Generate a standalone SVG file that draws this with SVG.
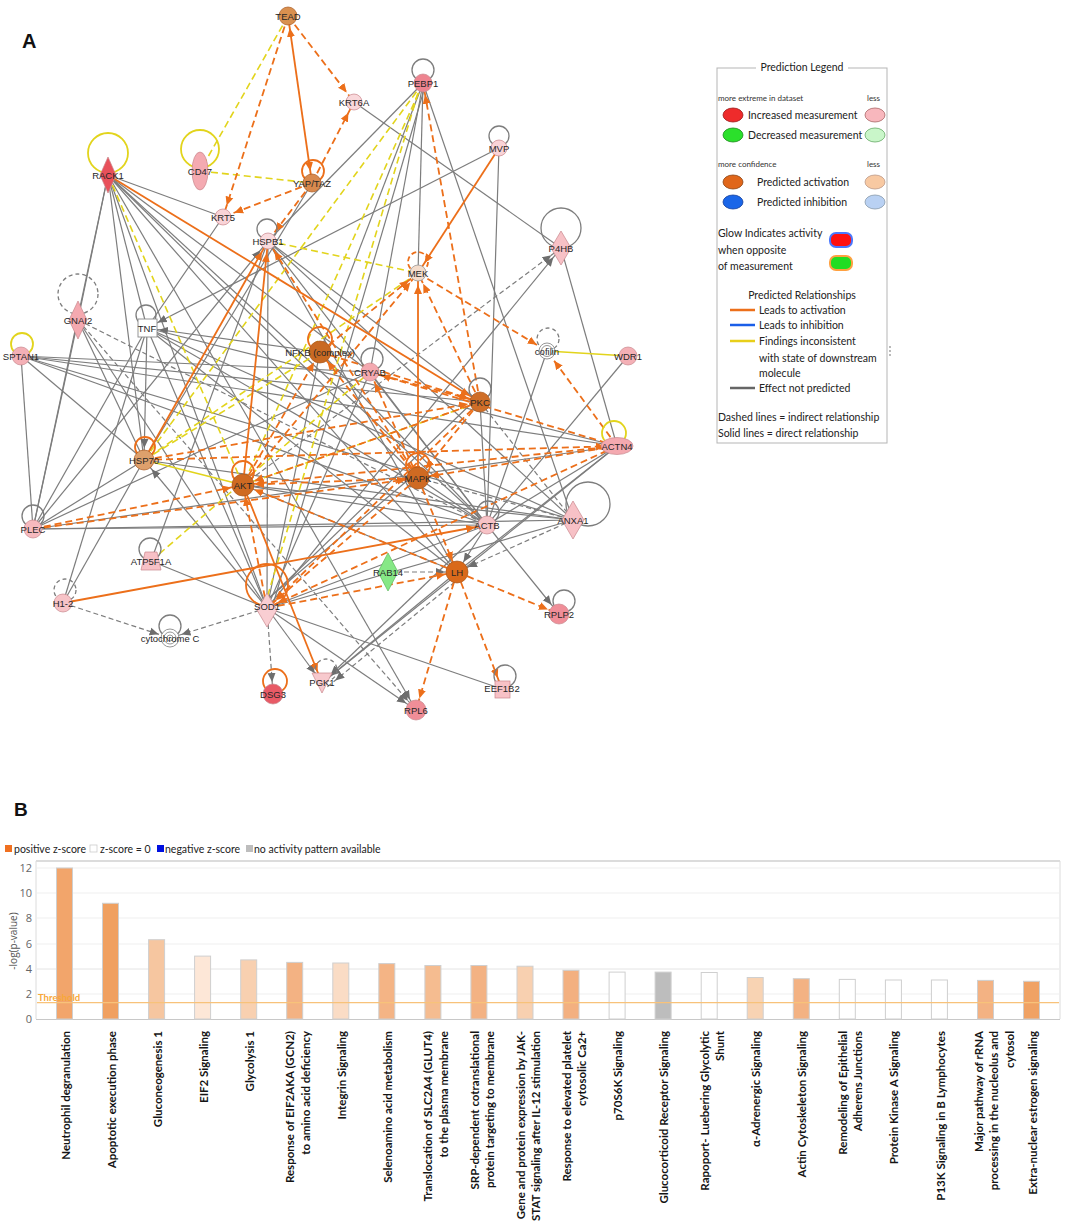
<svg xmlns="http://www.w3.org/2000/svg" width="1065" height="1227" viewBox="0 0 1065 1227">
<style>
.g{stroke:#7d7d7d;stroke-width:1.2;fill:none}
.gd{stroke:#7d7d7d;stroke-width:1.2;stroke-dasharray:5 3;fill:none}
.a{marker-end:url(#mg)}
.o{stroke:#ec6f1a;stroke-width:1.8;fill:none;marker-end:url(#mo)}
.od{stroke:#ec6f1a;stroke-width:1.8;stroke-dasharray:7 4;fill:none;marker-end:url(#mo)}
.bi{marker-start:url(#mo)}
.y{stroke:#e2d41c;stroke-width:1.6;fill:none}
.yd{stroke:#e2d41c;stroke-width:1.6;stroke-dasharray:7 4;fill:none}
.lg{stroke:#7d7d7d;stroke-width:1.3;fill:none}
.lgd{stroke:#7d7d7d;stroke-width:1.3;stroke-dasharray:4 3;fill:none}
.lo{stroke:#ec6f1a;stroke-width:1.8;fill:none}
.lod{stroke:#ec6f1a;stroke-width:1.8;stroke-dasharray:5 3;fill:none}
.ly{stroke:#e2d41c;stroke-width:1.8;fill:none}
.pk{stroke:#c9868c;stroke-width:0.7}
.or{stroke:#a9571c;stroke-width:0.7}
.wh{fill:#fff;stroke:#8a8a8a;stroke-width:0.9}
.t{font-family:"Liberation Sans",Arial,sans-serif;font-size:9.5px;fill:#262626;text-anchor:middle}
.lt{font-family:Lato,"Liberation Sans",sans-serif;font-size:10.5px;fill:#222}
.ls{font-family:Lato,"Liberation Sans",sans-serif;font-size:8px;fill:#333}
.cl{font-family:Lato,"Liberation Sans",sans-serif;font-size:11.5px;font-weight:700;fill:#141414;text-anchor:end}
.tk{font-family:"Open Sans","Liberation Sans",sans-serif;font-size:11px;fill:#666;text-anchor:end}
.bar{stroke:#cfcfcf;stroke-width:1}
</style>
<defs>
<marker id="mo" markerUnits="userSpaceOnUse" viewBox="0 0 22 10" refX="21" refY="5" markerWidth="22" markerHeight="10" orient="auto-start-reverse"><path d="M0,1 L9,5 L0,9 z" fill="#ec6f1a"/></marker>
<marker id="mg" markerUnits="userSpaceOnUse" viewBox="0 0 22 10" refX="21" refY="5" markerWidth="22" markerHeight="10" orient="auto"><path d="M0,1 L9,5 L0,9 z" fill="#6e6e6e"/></marker>
</defs>
<rect width="1065" height="1227" fill="#fff"/>
<text x="22" y="48" font-family="Liberation Sans,Arial,sans-serif" font-weight="700" font-size="20" fill="#111">A</text>
<text x="14" y="816" font-family="Liberation Sans,Arial,sans-serif" font-weight="700" font-size="19" fill="#111">B</text>

<g id="connectors">
<line class="g" x1="108" y1="175" x2="78" y2="320"/>
<line class="g" x1="108" y1="175" x2="223" y2="217"/>
<line class="g" x1="108" y1="175" x2="147" y2="328"/>
<line class="g" x1="108" y1="175" x2="418" y2="478"/>
<line class="g" x1="108" y1="175" x2="487" y2="525"/>
<line class="g" x1="108" y1="175" x2="457" y2="572"/>
<line class="g a" x1="108" y1="175" x2="416" y2="710"/>
<line class="g" x1="108" y1="175" x2="370" y2="372"/>
<line class="g" x1="108" y1="175" x2="144" y2="460"/>
<line class="g" x1="108" y1="175" x2="267" y2="608"/>
<line class="g" x1="354" y1="102" x2="561" y2="248"/>
<line class="g" x1="423" y1="83" x2="268" y2="241"/>
<line class="g" x1="423" y1="83" x2="418" y2="273"/>
<line class="g" x1="423" y1="83" x2="573" y2="520"/>
<line class="g" x1="423" y1="83" x2="320" y2="352"/>
<line class="g" x1="426" y1="83" x2="272" y2="608"/>
<line class="g" x1="423" y1="83" x2="370" y2="372"/>
<line class="g" x1="312" y1="183" x2="144" y2="460"/>
<line class="g a" x1="499" y1="148" x2="147" y2="328"/>
<line class="g" x1="499" y1="148" x2="487" y2="525"/>
<line class="g" x1="561" y1="248" x2="617" y2="446"/>
<line class="g a" x1="267" y1="608" x2="561" y2="248"/>
<line class="gd a" x1="243" y1="485" x2="561" y2="248"/>
<line class="g" x1="268" y1="241" x2="480" y2="402"/>
<line class="g" x1="268" y1="241" x2="487" y2="525"/>
<line class="g" x1="268" y1="241" x2="267" y2="608"/>
<line class="g" x1="268" y1="241" x2="457" y2="572"/>
<line class="g" x1="268" y1="241" x2="573" y2="520"/>
<line class="g" x1="223" y1="217" x2="147" y2="328"/>
<line class="g a" x1="33" y1="529" x2="268" y2="241"/>
<line class="g" x1="21" y1="356" x2="33" y2="529"/>
<line class="g" x1="21" y1="356" x2="144" y2="460"/>
<line class="g" x1="21" y1="356" x2="487" y2="525"/>
<line class="g" x1="21" y1="356" x2="573" y2="520"/>
<line class="g" x1="21" y1="356" x2="617" y2="446"/>
<line class="g" x1="21" y1="356" x2="370" y2="372"/>
<line class="g" x1="21" y1="356" x2="480" y2="402"/>
<line class="g" x1="78" y1="320" x2="33" y2="529"/>
<line class="gd" x1="78" y1="320" x2="487" y2="525"/>
<line class="g" x1="78" y1="320" x2="267" y2="608"/>
<line class="g" x1="78" y1="320" x2="144" y2="460"/>
<line class="g a" x1="147" y1="328" x2="144" y2="460"/>
<line class="g" x1="147" y1="328" x2="487" y2="525"/>
<line class="g" x1="147" y1="328" x2="573" y2="520"/>
<line class="g" x1="147" y1="328" x2="267" y2="608"/>
<line class="g" x1="147" y1="328" x2="457" y2="572"/>
<line class="g" x1="147" y1="328" x2="33" y2="529"/>
<line class="g a" x1="320" y1="352" x2="147" y2="328"/>
<line class="g" x1="320" y1="352" x2="487" y2="525"/>
<line class="g" x1="320" y1="352" x2="267" y2="608"/>
<line class="g" x1="370" y1="372" x2="267" y2="608"/>
<line class="g" x1="370" y1="372" x2="487" y2="525"/>
<line class="g" x1="370" y1="372" x2="33" y2="529"/>
<line class="g" x1="144" y1="460" x2="33" y2="529"/>
<line class="g" x1="144" y1="460" x2="63" y2="603"/>
<line class="g" x1="147" y1="328" x2="63" y2="603"/>
<line class="g a" x1="267" y1="608" x2="144" y2="460"/>
<line class="g" x1="33" y1="529" x2="487" y2="525"/>
<line class="g" x1="33" y1="529" x2="573" y2="520"/>
<line class="g" x1="33" y1="529" x2="617" y2="446"/>
<line class="g" x1="33" y1="529" x2="108" y2="175"/>
<line class="g" x1="243" y1="485" x2="487" y2="525"/>
<line class="g" x1="243" y1="485" x2="573" y2="520"/>
<line class="g" x1="243" y1="485" x2="457" y2="572"/>
<line class="g" x1="418" y1="478" x2="487" y2="525"/>
<line class="gd" x1="418" y1="478" x2="573" y2="520"/>
<line class="g" x1="480" y1="402" x2="487" y2="525"/>
<line class="gd" x1="480" y1="402" x2="573" y2="520"/>
<line class="g" x1="547" y1="351" x2="487" y2="525"/>
<line class="g" x1="628" y1="356" x2="487" y2="525"/>
<line class="g" x1="617" y1="446" x2="487" y2="525"/>
<line class="g" x1="617" y1="446" x2="457" y2="572"/>
<line class="g" x1="617" y1="446" x2="147" y2="328"/>
<line class="g" x1="617" y1="446" x2="322" y2="683"/>
<line class="gd a" x1="573" y1="520" x2="457" y2="572"/>
<line class="g" x1="573" y1="520" x2="267" y2="608"/>
<line class="g" x1="573" y1="520" x2="144" y2="460"/>
<line class="g a" x1="487" y1="525" x2="457" y2="572"/>
<line class="g a" x1="487" y1="525" x2="559" y2="614"/>
<line class="g" x1="487" y1="525" x2="267" y2="608"/>
<line class="g a" x1="487" y1="525" x2="322" y2="683"/>
<line class="g a" x1="457" y1="572" x2="322" y2="683"/>
<line class="gd a" x1="461" y1="577" x2="326" y2="688"/>
<line class="gd a" x1="388" y1="572" x2="457" y2="572"/>
<line class="g" x1="262" y1="605" x2="476" y2="399"/>
<line class="g" x1="263" y1="603" x2="415" y2="474"/>
<line class="gd a" x1="267" y1="608" x2="273" y2="694"/>
<line class="gd a" x1="267" y1="608" x2="170" y2="638"/>
<line class="gd a" x1="63" y1="603" x2="170" y2="638"/>
<line class="g a" x1="267" y1="608" x2="322" y2="683"/>
<line class="g a" x1="267" y1="608" x2="416" y2="710"/>
<line class="g" x1="267" y1="608" x2="502" y2="689"/>
<line class="g" x1="151" y1="561" x2="267" y2="608"/>
<line class="g" x1="151" y1="561" x2="268" y2="241"/>
<line class="gd a" x1="78" y1="320" x2="416" y2="710"/>
<line class="yd" x1="288" y1="16" x2="200" y2="171"/>
<line class="yd" x1="200" y1="171" x2="312" y2="183"/>
<line class="yd" x1="108" y1="175" x2="243" y2="485"/>
<line class="yd" x1="268" y1="241" x2="418" y2="273"/>
<line class="yd" x1="423" y1="83" x2="144" y2="460"/>
<line class="yd" x1="423" y1="83" x2="243" y2="485"/>
<line class="yd" x1="421" y1="83" x2="264" y2="608"/>
<line class="yd" x1="418" y1="273" x2="144" y2="460"/>
<line class="yd" x1="243" y1="485" x2="480" y2="402"/>
<line class="yd" x1="151" y1="561" x2="370" y2="372"/>
<line class="yd" x1="144" y1="460" x2="320" y2="352"/>
<line class="y" x1="144" y1="460" x2="243" y2="485"/>
<line class="y" x1="628" y1="356" x2="547" y2="351"/>
<line class="od" x1="288" y1="16" x2="354" y2="102"/>
<line class="od" x1="288" y1="16" x2="223" y2="217"/>
<line class="od" x1="312" y1="183" x2="354" y2="102"/>
<line class="od" x1="312" y1="183" x2="223" y2="217"/>
<line class="od" x1="312" y1="183" x2="268" y2="241"/>
<line class="od" x1="480" y1="402" x2="423" y2="83"/>
<line class="od" x1="418" y1="273" x2="547" y2="351"/>
<line class="od" x1="617" y1="446" x2="547" y2="351"/>
<line class="od" x1="243" y1="485" x2="418" y2="273"/>
<line class="od" x1="320" y1="352" x2="418" y2="273"/>
<line class="od" x1="480" y1="402" x2="418" y2="273"/>
<line class="od" x1="418" y1="478" x2="268" y2="241"/>
<line class="od" x1="418" y1="478" x2="320" y2="352"/>
<line class="od" x1="418" y1="478" x2="370" y2="372"/>
<line class="od" x1="320" y1="352" x2="480" y2="402"/>
<line class="od" x1="370" y1="372" x2="480" y2="402"/>
<line class="od" x1="144" y1="460" x2="480" y2="402"/>
<line class="od" x1="144" y1="460" x2="617" y2="446"/>
<line class="od" x1="33" y1="529" x2="243" y2="485"/>
<line class="od" x1="33" y1="529" x2="418" y2="478"/>
<line class="od" x1="617" y1="446" x2="243" y2="485"/>
<line class="od" x1="617" y1="446" x2="418" y2="478"/>
<line class="od" x1="617" y1="446" x2="370" y2="372"/>
<line class="od" x1="418" y1="478" x2="243" y2="485"/>
<line class="od" x1="457" y1="572" x2="243" y2="485"/>
<line class="od" x1="267" y1="608" x2="243" y2="485"/>
<line class="od" x1="267" y1="608" x2="457" y2="572"/>
<line class="od" x1="418" y1="478" x2="457" y2="572"/>
<line class="od" x1="457" y1="572" x2="416" y2="710"/>
<line class="od" x1="457" y1="572" x2="502" y2="689"/>
<line class="od" x1="457" y1="572" x2="559" y2="614"/>
<line class="od" x1="480" y1="402" x2="267" y2="608"/>
<line class="od" x1="617" y1="446" x2="267" y2="608"/>
<line class="od" x1="418" y1="478" x2="267" y2="608"/>
<line class="od" x1="480" y1="402" x2="418" y2="478"/>
<line class="od" x1="480" y1="402" x2="243" y2="485"/>
<line class="od" x1="243" y1="485" x2="320" y2="352"/>
<line class="o bi" x1="312" y1="183" x2="288" y2="16"/>
<line class="o" x1="108" y1="175" x2="480" y2="402"/>
<line class="o" x1="499" y1="148" x2="418" y2="273"/>
<line class="o" x1="418" y1="478" x2="418" y2="273"/>
<line class="o" x1="144" y1="460" x2="268" y2="241"/>
<line class="o" x1="243" y1="485" x2="268" y2="241"/>
<line class="o" x1="243" y1="485" x2="322" y2="683"/>
<line class="o" x1="63" y1="603" x2="487" y2="525"/>
<circle class="ly" cx="108" cy="153" r="20"/>
<circle class="ly" cx="200" cy="149" r="19"/>
<circle class="lo" cx="313" cy="171" r="11"/>
<circle class="lg" cx="423" cy="70" r="11"/>
<circle class="lg" cx="499" cy="136" r="10"/>
<circle class="lg" cx="267" cy="229" r="10"/>
<circle class="lg" cx="561" cy="228" r="20"/>
<circle class="lod" cx="418" cy="262" r="10"/>
<circle class="lgd" cx="78" cy="294" r="20"/>
<circle class="lg" cx="146" cy="315" r="10"/>
<circle class="ly" cx="22" cy="344" r="11"/>
<circle class="lo" cx="320" cy="339" r="12"/>
<circle class="lg" cx="372" cy="359" r="11"/>
<circle class="lgd" cx="548" cy="339" r="11"/>
<circle class="lg" cx="480" cy="389" r="11"/>
<circle class="lo" cx="145" cy="447" r="10"/>
<circle class="ly" cx="614" cy="433" r="12"/>
<circle class="lo" cx="243" cy="472" r="11"/>
<circle class="lo" cx="418" cy="465" r="12"/>
<circle class="lg" cx="488" cy="512" r="11"/>
<circle class="lg" cx="588" cy="504" r="22"/>
<circle class="lg" cx="150" cy="549" r="11"/>
<circle class="lgd" cx="65" cy="590" r="11"/>
<circle class="lo" cx="267" cy="585" r="21"/>
<circle class="lg" cx="170" cy="626" r="11"/>
<circle class="lg" cx="564" cy="601" r="11"/>
<circle class="lo" cx="275" cy="681" r="12"/>
<circle class="lgd" cx="326" cy="670" r="11"/>
<circle class="lg" cx="505" cy="676" r="11"/>
<circle class="lg" cx="33" cy="516" r="11"/>
</g>

<g id="node-TEAD"><circle class="or" cx="288" cy="16" r="9" fill="#d9904f"/><text class="t" x="288" y="19.5">TEAD</text></g>
<g id="node-KRT6A"><circle class="pk" cx="354" cy="102" r="8" fill="#f9d8db"/><text class="t" x="354" y="105.5">KRT6A</text></g>
<g id="node-PEBP1"><circle class="pk" cx="423" cy="83" r="9" fill="#ee8490"/><text class="t" x="423" y="86.5">PEBP1</text></g>
<g id="node-CD47"><ellipse class="pk" cx="200" cy="171" rx="8" ry="19" fill="#f4aab1"/><text class="t" x="200" y="174.5">CD47</text></g>
<g id="node-RACK1"><polygon class="pk" points="108,157 116,175 108,193 100,175" fill="#e8505a"/><text class="t" x="108" y="178.5">RACK1</text></g>
<g id="node-YAPTAZ"><circle class="or" cx="312" cy="183" r="9" fill="#d98a4e"/><text class="t" x="312" y="186.5">YAP/TAZ</text></g>
<g id="node-KRT5"><circle class="pk" cx="223" cy="217" r="8" fill="#f9d3d7"/><text class="t" x="223" y="220.5">KRT5</text></g>
<g id="node-MVP"><circle class="pk" cx="499" cy="148" r="8" fill="#f9d3d7"/><text class="t" x="499" y="151.5">MVP</text></g>
<g id="node-HSPB1"><circle class="pk" cx="268" cy="241" r="8" fill="#fadbde"/><text class="t" x="268" y="244.5">HSPB1</text></g>
<g id="node-P4HB"><polygon class="pk" points="561,231 571,248 561,265 551,248" fill="#f7c1c6"/><text class="t" x="561" y="251.5">P4HB</text></g>
<g id="node-MEK"><circle cx="418" cy="273" r="8" fill="#f4dccb" stroke="#999" stroke-width="0.8"/><text class="t" x="418" y="276.5">MEK</text></g>
<g id="node-GNAI2"><polygon class="pk" points="78,301 87,320 78,339 69,320" fill="#f4a9b0"/><text class="t" x="78" y="323.5">GNAI2</text></g>
<g id="node-TNF"><rect class="wh" x="138" y="319" width="19" height="18"/><text class="t" x="147" y="331.5">TNF</text></g>
<g id="node-SPTAN1"><circle class="pk" cx="21" cy="356" r="9" fill="#f4b0b6"/><text class="t" x="21" y="359.5">SPTAN1</text></g>
<g id="node-NFKB"><circle class="or" cx="320" cy="352" r="11" fill="#c96a22"/><text class="t" x="320" y="355.5">NFKB (complex)</text></g>
<g id="node-CRYAB"><circle class="pk" cx="370" cy="372" r="9" fill="#f4a9b0"/><text class="t" x="370" y="375.5">CRYAB</text></g>
<g id="node-cofilin"><circle class="wh" cx="547" cy="351" r="8"/><circle class="wh" cx="547" cy="351" r="5.5"/><text class="t" x="547" y="354.5">cofilin</text></g>
<g id="node-WDR1"><circle class="pk" cx="628" cy="356" r="9" fill="#f4b0b6"/><text class="t" x="628" y="359.5">WDR1</text></g>
<g id="node-PKC"><circle class="or" cx="480" cy="402" r="10" fill="#cf6e28"/><text class="t" x="480" y="405.5">PKC</text></g>
<g id="node-HSP70"><circle class="or" cx="144" cy="460" r="10" fill="#dea06c"/><text class="t" x="144" y="463.5">HSP70</text></g>
<g id="node-ACTN4"><ellipse class="pk" cx="617" cy="446" rx="16" ry="8.5" fill="#f4a9b0"/><text class="t" x="617" y="449.5">ACTN4</text></g>
<g id="node-AKT"><circle class="or" cx="243" cy="485" r="11" fill="#cf6a22"/><text class="t" x="243" y="488.5">AKT</text></g>
<g id="node-MAPK"><circle class="or" cx="418" cy="478" r="11" fill="#cf6a22"/><text class="t" x="418" y="481.5">MAPK</text></g>
<g id="node-PLEC"><circle class="pk" cx="33" cy="529" r="9" fill="#f6b9be"/><text class="t" x="33" y="532.5">PLEC</text></g>
<g id="node-ACTB"><circle class="pk" cx="487" cy="525" r="9" fill="#f7c3c7"/><text class="t" x="487" y="528.5">ACTB</text></g>
<g id="node-ANXA1"><polygon class="pk" points="573,501 584,520 573,539 562,520" fill="#f7c1c6"/><text class="t" x="573" y="523.5">ANXA1</text></g>
<g id="node-ATP5F1A"><polygon class="pk" points="145,552 157,552 161,570 141,570" fill="#f7c1c6"/><text class="t" x="151" y="564.5">ATP5F1A</text></g>
<g id="node-RAB14"><polygon points="388,553 398,572 388,591 378,572" fill="#86e886" stroke="#5cb85c" stroke-width="0.7"/><text class="t" x="388" y="575.5">RAB14</text></g>
<g id="node-LH"><circle class="or" cx="457" cy="572" r="11" fill="#d9691a"/><text class="t" x="457" y="575.5">LH</text></g>
<g id="node-H1-2"><circle class="pk" cx="63" cy="603" r="9" fill="#f7c3c7"/><text class="t" x="63" y="606.5">H1-2</text></g>
<g id="node-SOD1"><polygon class="pk" points="267,593 277,610 267,627 257,610" fill="#f9ced2"/><text class="t" x="267" y="609.5">SOD1</text></g>
<g id="node-cytochromeC"><circle class="wh" cx="170" cy="638" r="9"/><circle class="wh" cx="170" cy="638" r="6"/><circle class="wh" cx="170" cy="638" r="3"/><text class="t" x="170" y="641.5">cytochrome C</text></g>
<g id="node-DSG3"><circle class="pk" cx="273" cy="694" r="10" fill="#e85a66"/><text class="t" x="273" y="697.5">DSG3</text></g>
<g id="node-PGK1"><polygon class="pk" points="312,673 332,673 322,693" fill="#f7c9cd"/><text class="t" x="322" y="686">PGK1</text></g>
<g id="node-EEF1B2"><rect class="pk" x="495" y="681" width="15" height="17" fill="#f7c1c6"/><text class="t" x="502" y="692">EEF1B2</text></g>
<g id="node-RPL6"><circle class="pk" cx="416" cy="710" r="10" fill="#f08e98"/><text class="t" x="416" y="713.5">RPL6</text></g>
<g id="node-RPLP2"><circle class="pk" cx="559" cy="614" r="10" fill="#f08e98"/><text class="t" x="559" y="617.5">RPLP2</text></g>

<g id="legend">
<rect x="717" y="68" width="170" height="375" fill="#fff" stroke="#b5b5b5" stroke-width="1"/>
<rect x="756" y="62" width="92" height="12" fill="#fff"/>
<text class="lt" x="802" y="71" text-anchor="middle" font-size="11">Prediction Legend</text>
<text class="ls" x="718" y="101">more extreme in dataset</text>
<text class="ls" x="867" y="101">less</text>
<ellipse cx="733" cy="115" rx="10" ry="7" fill="#ee2b2b" stroke="#9a1a1a" stroke-width="0.8"/>
<text class="lt" x="748" y="119">Increased measurement</text>
<ellipse cx="875" cy="115" rx="10" ry="7" fill="#f8b7bd" stroke="#a66" stroke-width="0.8"/>
<ellipse cx="733" cy="135" rx="10" ry="7" fill="#2be02b" stroke="#1a8a1a" stroke-width="0.8"/>
<text class="lt" x="748" y="139">Decreased measurement</text>
<ellipse cx="875" cy="135" rx="10" ry="7" fill="#c9f6c9" stroke="#6a6" stroke-width="0.8"/>
<text class="ls" x="718" y="167">more confidence</text>
<text class="ls" x="867" y="167">less</text>
<ellipse cx="733" cy="182" rx="10" ry="7" fill="#e0661a" stroke="#8a4414" stroke-width="0.8"/>
<text class="lt" x="757" y="186">Predicted activation</text>
<ellipse cx="875" cy="182" rx="10" ry="7" fill="#f8c9a2" stroke="#b98" stroke-width="0.8"/>
<ellipse cx="733" cy="202" rx="10" ry="7" fill="#1a66e8" stroke="#143f9a" stroke-width="0.8"/>
<text class="lt" x="757" y="206">Predicted inhibition</text>
<ellipse cx="875" cy="202" rx="10" ry="7" fill="#b9d1f3" stroke="#89a" stroke-width="0.8"/>
<text class="lt" x="718" y="237">Glow Indicates activity</text>
<text class="lt" x="718" y="254">when opposite</text>
<text class="lt" x="718" y="270">of measurement</text>
<rect x="830" y="233" width="22" height="14" rx="6" fill="#ff1010" stroke="#4a78ff" stroke-width="2"/>
<rect x="830" y="256" width="22" height="14" rx="6" fill="#22dd22" stroke="#ffa040" stroke-width="2"/>
<text class="lt" x="802" y="299" text-anchor="middle">Predicted Relationships</text>
<line x1="730" y1="310" x2="755" y2="310" stroke="#ec6f1a" stroke-width="2.5"/>
<text class="lt" x="759" y="314">Leads to activation</text>
<line x1="730" y1="325" x2="755" y2="325" stroke="#1a5ee8" stroke-width="2.5"/>
<text class="lt" x="759" y="329">Leads to inhibition</text>
<line x1="730" y1="341" x2="755" y2="341" stroke="#e8cf1a" stroke-width="2.5"/>
<text class="lt" x="759" y="345">Findings inconsistent</text>
<text class="lt" x="759" y="362">with state of downstream</text>
<text class="lt" x="759" y="377">molecule</text>
<line x1="730" y1="388" x2="755" y2="388" stroke="#666" stroke-width="2.5"/>
<text class="lt" x="759" y="392">Effect not predicted</text>
<text class="lt" x="718" y="421">Dashed lines = indirect relationship</text>
<text class="lt" x="718" y="437">Solid lines = direct relationship</text>
<circle cx="890" cy="347" r="0.9" fill="#999"/><circle cx="890" cy="351" r="0.9" fill="#999"/><circle cx="890" cy="355" r="0.9" fill="#999"/>
</g>

<g id="chart">
<rect x="5" y="845" width="7" height="7" fill="#f07020"/>
<text class="lt" x="14" y="852.5" font-size="9.5">positive z-score</text>
<rect x="90" y="845" width="7" height="7" fill="#fff" stroke="#ccc" stroke-width="0.8"/>
<text class="lt" x="100" y="852.5" font-size="9.5">z-score = 0</text>
<rect x="157" y="845" width="7" height="7" fill="#0010e0"/>
<text class="lt" x="165" y="852.5" font-size="9.5">negative z-score</text>
<rect x="246" y="845" width="7" height="7" fill="#bdbdbd"/>
<text class="lt" x="254" y="852.5" font-size="9.5">no activity pattern available</text>
<g stroke="#efefef" stroke-width="1">
<line x1="37" y1="868" x2="1059" y2="868"/>
<line x1="37" y1="893" x2="1059" y2="893"/>
<line x1="37" y1="918" x2="1059" y2="918"/>
<line x1="37" y1="944" x2="1059" y2="944"/>
<line x1="37" y1="969" x2="1059" y2="969" stroke="#e4e4e4"/>
<line x1="37" y1="994" x2="1059" y2="994"/>
</g>
<line x1="36" y1="861" x2="1060" y2="861" stroke="#dcdcdc" stroke-width="2"/>
<line x1="36" y1="861" x2="36" y2="1019" stroke="#dcdcdc" stroke-width="1"/>
<line x1="1060" y1="861" x2="1060" y2="1019" stroke="#dcdcdc" stroke-width="1"/>
<line x1="36" y1="1019.5" x2="1060" y2="1019.5" stroke="#c8c8c8" stroke-width="1"/>
<text class="tk" x="32" y="872">12</text>
<text class="tk" x="32" y="897">10</text>
<text class="tk" x="32" y="922">8</text>
<text class="tk" x="32" y="948">6</text>
<text class="tk" x="32" y="973">4</text>
<text class="tk" x="32" y="998">2</text>
<text class="tk" x="32" y="1023">0</text>
<text transform="translate(17,941) rotate(-90)" font-family="Open Sans,Liberation Sans,sans-serif" font-size="10" fill="#555" text-anchor="middle">-log(p-value)</text>
<rect class="bar" x="56.5" y="868" width="16" height="151" fill="#f2a56b"/>
<rect class="bar" x="102.5" y="903.3" width="16" height="115.7" fill="#f0a060"/>
<rect class="bar" x="148.6" y="939.7" width="16" height="79.3" fill="#f6c6a0"/>
<rect class="bar" x="194.6" y="956.1" width="16" height="62.9" fill="#fde7d7"/>
<rect class="bar" x="240.7" y="959.9" width="16" height="59.1" fill="#f8d0b0"/>
<rect class="bar" x="286.7" y="962.4" width="16" height="56.6" fill="#f3b283"/>
<rect class="bar" x="332.8" y="963" width="16" height="56" fill="#fadcc5"/>
<rect class="bar" x="378.8" y="963.6" width="16" height="55.4" fill="#f4b485"/>
<rect class="bar" x="424.9" y="965.5" width="16" height="53.5" fill="#f5bc90"/>
<rect class="bar" x="470.9" y="965.5" width="16" height="53.5" fill="#f3b283"/>
<rect class="bar" x="517" y="966.2" width="16" height="52.8" fill="#f8d0b0"/>
<rect class="bar" x="563" y="970.3" width="16" height="48.7" fill="#f3b080"/>
<rect class="bar" x="609.1" y="972.1" width="16" height="46.9" fill="#fff"/>
<rect class="bar" x="655.1" y="972.1" width="16" height="46.9" fill="#bdbdbd"/>
<rect class="bar" x="701.2" y="972.5" width="16" height="46.5" fill="#fff"/>
<rect class="bar" x="747.2" y="977.5" width="16" height="41.5" fill="#f8d3b3"/>
<rect class="bar" x="793.3" y="978.7" width="16" height="40.3" fill="#f3b283"/>
<rect class="bar" x="839.3" y="979.4" width="16" height="39.6" fill="#fff"/>
<rect class="bar" x="885.4" y="980" width="16" height="39" fill="#fff"/>
<rect class="bar" x="931.4" y="980" width="16" height="39" fill="#fff"/>
<rect class="bar" x="977.5" y="980.4" width="16" height="38.6" fill="#f3b283"/>
<rect class="bar" x="1023.5" y="981.3" width="16" height="37.7" fill="#f0a264"/>
<line x1="37" y1="1002.7" x2="1059" y2="1002.7" stroke="#f8c27a" stroke-width="1.2"/>
<text x="38" y="1000.5" font-family="Lato,Liberation Sans,sans-serif" font-size="9.5" font-weight="700" fill="#f7a83a">Threshold</text>
<text class="cl" transform="translate(69.5,1031) rotate(-90)">Neutrophil degranulation</text>
<text class="cl" transform="translate(115.5,1031) rotate(-90)">Apoptotic execution phase</text>
<text class="cl" transform="translate(161.6,1031) rotate(-90)">Gluconeogenesis 1</text>
<text class="cl" transform="translate(207.6,1031) rotate(-90)">EIF2 Signaling</text>
<text class="cl" transform="translate(253.7,1031) rotate(-90)">Glycolysis 1</text>
<text class="cl" transform="translate(294.3,1031) rotate(-90)"><tspan x="0" y="0">Response of EIF2AKA (GCN2)</tspan><tspan x="0" dy="15.3">to amino acid deficiency</tspan></text>
<text class="cl" transform="translate(345.8,1031) rotate(-90)">Integrin Signaling</text>
<text class="cl" transform="translate(391.9,1031) rotate(-90)">Selenoamino acid metabolism</text>
<text class="cl" transform="translate(432.4,1031) rotate(-90)"><tspan x="0" y="0">Translocation of SLC2A4 (GLUT4)</tspan><tspan x="0" dy="15.3">to the plasma membrane</tspan></text>
<text class="cl" transform="translate(478.5,1031) rotate(-90)"><tspan x="0" y="0">SRP-dependent cotranslational</tspan><tspan x="0" dy="15.3">protein targeting to membrane</tspan></text>
<text class="cl" transform="translate(524.5,1031) rotate(-90)"><tspan x="0" y="0">Gene and protein expression by JAK-</tspan><tspan x="0" dy="15.3">STAT signaling after IL-12 stimulation</tspan></text>
<text class="cl" transform="translate(570.6,1031) rotate(-90)"><tspan x="0" y="0">Response to elevated platelet</tspan><tspan x="0" dy="15.3">cytosolic Ca2+</tspan></text>
<text class="cl" transform="translate(622.1,1031) rotate(-90)">p70S6K Signaling</text>
<text class="cl" transform="translate(668.2,1031) rotate(-90)">Glucocorticoid Receptor Signaling</text>
<text class="cl" transform="translate(708.7,1031) rotate(-90)"><tspan x="0" y="0">Rapoport- Luebering Glycolytic</tspan><tspan x="0" dy="15.3">Shunt</tspan></text>
<text class="cl" transform="translate(760.3,1031) rotate(-90)">α-Adrenergic Signaling</text>
<text class="cl" transform="translate(806.3,1031) rotate(-90)">Actin Cytoskeleton Signaling</text>
<text class="cl" transform="translate(846.9,1031) rotate(-90)"><tspan x="0" y="0">Remodeling of Epithelial</tspan><tspan x="0" dy="15.3">Adherens Junctions</tspan></text>
<text class="cl" transform="translate(898.4,1031) rotate(-90)">Protein Kinase A Signaling</text>
<text class="cl" transform="translate(944.5,1031) rotate(-90)">P13K Signaling in B Lymphocytes</text>
<text class="cl" transform="translate(983,1031) rotate(-90)"><tspan x="0" y="0">Major pathway of rRNA</tspan><tspan x="0" dy="15.3">processing in the nucleolus and</tspan><tspan x="0" dy="15.3">cytosol</tspan></text>
<text class="cl" transform="translate(1036.6,1031) rotate(-90)">Extra-nuclear estrogen signaling</text>
</g>
</svg>
